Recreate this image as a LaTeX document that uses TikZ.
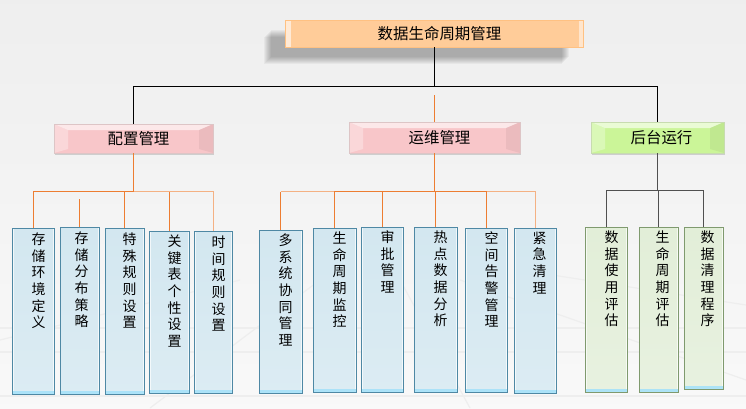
\documentclass[tikz,border=0pt]{standalone}
\usepackage{fontspec}
\newfontfamily\cjk{Noto Sans CJK SC}
\usetikzlibrary{shadows}
\definecolor{rootfill}{HTML}{FFCC99}
\definecolor{pinkfill}{HTML}{F8C6C9}
\definecolor{greenfill}{HTML}{CBF598}
\definecolor{leafblue}{HTML}{D3E7F0}
\definecolor{leafedge}{HTML}{4E88A4}
\definecolor{leafgreen}{HTML}{E2EED8}
\definecolor{leafgedge}{HTML}{7F9A6E}
\definecolor{linkorange}{HTML}{ED7D31}
\definecolor{linkpeach}{HTML}{F4B183}
\definecolor{linkgray}{HTML}{505050}

\tikzset{
  rootbox/.style={draw=rootfill!85!orange, line width=0.6bp, fill=rootfill,
    minimum width=298bp, minimum height=27bp, inner sep=0bp,
    drop shadow={shadow xshift=-22bp, shadow yshift=-17bp, opacity=.04, fill=black},
    drop shadow={shadow xshift=-21bp, shadow yshift=-16bp, opacity=.04, fill=black},
    drop shadow={shadow xshift=-20bp, shadow yshift=-15bp, opacity=.04, fill=black},
    drop shadow={shadow xshift=-19bp, shadow yshift=-14bp, opacity=.04, fill=black},
    drop shadow={shadow xshift=-18bp, shadow yshift=-13bp, opacity=.04, fill=black},
    drop shadow={shadow xshift=-17bp, shadow yshift=-12bp, opacity=.04, fill=black},
    drop shadow={shadow xshift=-16bp, shadow yshift=-11bp, opacity=.04, fill=black},
    drop shadow={shadow xshift=-15bp, shadow yshift=-10bp, opacity=.04, fill=black},
    path picture={
      \fill[white,opacity=.6] (path picture bounding box.north west) rectangle ([xshift=5bp]path picture bounding box.south west);
      \fill[white,opacity=.5] ([xshift=-5bp]path picture bounding box.north east) rectangle (path picture bounding box.south east);
    }},
  midbox/.style={draw=#1!80!black!60, line width=0.5bp, fill=#1, inner sep=0bp,
    drop shadow={shadow xshift=1bp, shadow yshift=-1.5bp, opacity=.25, fill=black!60},
    path picture={
      \fill[white,opacity=.6] (path picture bounding box.north west) -- (path picture bounding box.north east)
        -- ([xshift=-14bp,yshift=-6bp]path picture bounding box.north east) -- ([xshift=14bp,yshift=-6bp]path picture bounding box.north west) -- cycle;
      \fill[white,opacity=.3] (path picture bounding box.north west) -- ([xshift=14bp,yshift=-6bp]path picture bounding box.north west)
        -- ([xshift=14bp,yshift=4bp]path picture bounding box.south west) -- (path picture bounding box.south west) -- cycle;
      \fill[black,opacity=.05] (path picture bounding box.north east) -- ([xshift=-14bp,yshift=-6bp]path picture bounding box.north east)
        -- ([xshift=-14bp,yshift=4bp]path picture bounding box.south east) -- (path picture bounding box.south east) -- cycle;
    }},
  leafbox/.style={draw=#1, line width=0.8bp, inner sep=0bp,
    path picture={
      \draw[white,opacity=.7,line width=2.4bp] (path picture bounding box.north west) rectangle (path picture bounding box.south east);
      \fill[cyan!35,opacity=.9] ([yshift=3bp]path picture bounding box.south west) rectangle (path picture bounding box.south east);
    }},
  bluebox/.style={leafbox=leafedge, top color=leafblue, bottom color=leafblue!80!white},
  greenbox/.style={leafbox=leafgedge, top color=leafgreen, bottom color=leafgreen!80!white},
  titletext/.style={font=\cjk\fontsize{15.5}{18}\selectfont, inner sep=0bp},
  leaftext/.style={font=\cjk\fontsize{14}{16.7}\selectfont, align=center, inner sep=0bp, anchor=north},
  trunkline/.style={black, line width=1.4bp},
  orangeline/.style={linkorange, line width=1.2bp},
  peachline/.style={linkpeach, line width=1.6bp},
  grayline/.style={linkgray, line width=1bp},
  floorline/.style={gray!13, line width=1.2bp}
}

\begin{document}
\begin{tikzpicture}[x=1bp,y=-1bp]
\useasboundingbox (0,0) rectangle (746,408);
\shade[top color=gray!13, bottom color=gray!5] (0,0) rectangle (746,408);
\draw[floorline] (0,328) -- (746,328);
\draw[floorline] (0,352) -- (746,352);
\draw[floorline] (0,396) -- (746,396);
\draw[floorline] (240,280) -- (0,340);
\draw[floorline] (320,280) -- (150,408);
\draw[floorline] (400,280) -- (470,408);
\draw[floorline] (460,280) -- (746,380);
\draw[floorline] (520,270) -- (746,305);

\node[rootbox] (root) at (434.5,33.5) {};
\node[titletext] (roottext) at ([xshift=5bp]root.center) {数据生命周期管理};

\node[midbox=pinkfill, minimum width=159bp, minimum height=29bp] (peizhi) at (133.5,138.5) {};
\node[midbox=pinkfill, minimum width=171bp, minimum height=31bp] (yunwei) at (434.5,137.5) {};
\node[midbox=greenfill, minimum width=133bp, minimum height=31bp] (houtai) at (657.5,137.5) {};
\node[titletext] (peizhitext) at ([xshift=5bp]peizhi.center) {配置管理};
\node[titletext] (yunweitext) at ([xshift=5bp]yunwei.center) {运维管理};
\node[titletext] (houtaitext) at ([xshift=4bp]houtai.center) {后台运行};

\node[bluebox, minimum width=42bp, minimum height=166bp] (p1) at (33.5,311) {};
\node[bluebox, minimum width=39bp, minimum height=167bp] (p2) at (79.5,310.5) {};
\node[bluebox, minimum width=39bp, minimum height=166bp] (p3) at (124.5,311) {};
\node[bluebox, minimum width=40bp, minimum height=162bp] (p4) at (169.5,312) {};
\node[bluebox, minimum width=38bp, minimum height=162bp] (p5) at (213.5,312) {};

\node[bluebox, minimum width=43bp, minimum height=163bp] (y1) at (280.5,311.5) {};
\node[bluebox, minimum width=43bp, minimum height=164bp] (y2) at (334.5,310) {};
\node[bluebox, minimum width=42bp, minimum height=165bp] (y3) at (382.5,309.5) {};
\node[bluebox, minimum width=43bp, minimum height=165bp] (y4) at (435.5,309.5) {};
\node[bluebox, minimum width=42bp, minimum height=164bp] (y5) at (486.5,310) {};
\node[bluebox, minimum width=42bp, minimum height=165bp] (y6) at (535.5,310.5) {};

\node[greenbox, minimum width=42bp, minimum height=165bp] (h1) at (606.5,309.5) {};
\node[greenbox, minimum width=39bp, minimum height=165bp] (h2) at (658.5,309.5) {};
\node[greenbox, minimum width=39bp, minimum height=162bp] (h3) at (703.5,308) {};

\node[leaftext] (p1t) at ([xshift=5bp,yshift=-5bp]p1.north) {存\\储\\环\\境\\定\\义};
\node[leaftext] (p2t) at ([xshift=2bp,yshift=-5bp]p2.north) {存\\储\\分\\布\\策\\略};
\node[leaftext] (p3t) at ([xshift=5bp,yshift=-5bp]p3.north) {特\\殊\\规\\则\\设\\置};
\node[leaftext] (p4t) at ([xshift=5bp,yshift=-4bp]p4.north) {关\\键\\表\\个\\性\\设\\置};
\node[leaftext] (p5t) at ([xshift=5bp,yshift=-5bp]p5.north) {时\\间\\规\\则\\设\\置};

\node[leaftext] (y1t) at ([xshift=5bp,yshift=-4bp]y1.north) {多\\系\\统\\协\\同\\管\\理};
\node[leaftext] (y2t) at ([xshift=5bp,yshift=-4bp]y2.north) {生\\命\\周\\期\\监\\控};
\node[leaftext] (y3t) at ([xshift=5bp,yshift=-4bp]y3.north) {审\\批\\管\\理};
\node[leaftext] (y4t) at ([xshift=5bp,yshift=-4bp]y4.north) {热\\点\\数\\据\\分\\析};
\node[leaftext] (y5t) at ([xshift=5bp,yshift=-4bp]y5.north) {空\\间\\告\\警\\管\\理};
\node[leaftext] (y6t) at ([xshift=4bp,yshift=-4bp]y6.north) {紧\\急\\清\\理};

\node[leaftext] (h1t) at ([xshift=5bp,yshift=-4bp]h1.north) {数\\据\\使\\用\\评\\估};
\node[leaftext] (h2t) at ([xshift=4bp,yshift=-4bp]h2.north) {生\\命\\周\\期\\评\\估};
\node[leaftext] (h3t) at ([xshift=4bp,yshift=-4bp]h3.north) {数\\据\\清\\理\\程\\序};

\coordinate (trunk) at (434.5,86.5);
\draw[trunkline] (root.south) -- (root.south |- trunk);
\draw[trunkline] (peizhi.north) |- (trunk) -| (houtai.north);
\coordinate (ywtop) at (434.5,95);
\draw[orangeline] (ywtop) -- (yunwei.north);

\coordinate (pzbus) at (133.5,191.5);
\draw[orangeline] (peizhi.south) -- (peizhi.south |- pzbus);
\draw[orangeline] (p1.north) |- (pzbus);
\draw[peachline] (pzbus) -| (p5.north);
\draw[orangeline] (p3.north) -- (p3.north |- pzbus);
\draw[orangeline] (p4.north) -- (p4.north |- pzbus);
\coordinate (p2top) at (79.5,199);
\draw[orangeline] (p2.north) -- (p2.north |- p2top);

\coordinate (ywbus) at (434.5,191.5);
\draw[orangeline] (yunwei.south) -- (yunwei.south |- ywbus);
\draw[peachline] (y1.north |- ywbus) -- (y2.north |- ywbus);
\draw[orangeline] (y1.north) -- (y1.north |- ywbus);
\draw[orangeline] (y2.north) |- (ywbus) -| (y5.north);
\draw[peachline] (y5.north |- ywbus) -| (y6.north);
\draw[orangeline] (y3.north) -- (y3.north |- ywbus);
\draw[orangeline] (y4.north) -- (y4.north |- ywbus);

\coordinate (htbus) at (657.5,190.5);
\draw[grayline] (houtai.south) -- (houtai.south |- htbus);
\draw[grayline] (h1.north) |- (htbus) -| (h3.north);
\draw[grayline] (h2.north) -- (h2.north |- htbus);
\end{tikzpicture}
\end{document}
